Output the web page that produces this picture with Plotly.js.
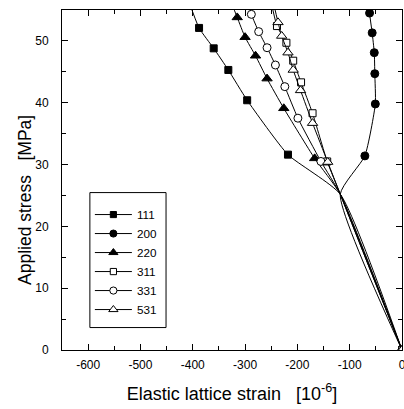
<!DOCTYPE html>
<html>
<head>
<meta charset="utf-8">
<script src="https://cdn.plot.ly/plotly-3.0.1.min.js"></script>
<style>
  html, body { margin: 0; padding: 0; background: #fff; }
  #chart { width: 404px; height: 409px; }
</style>
</head>
<body>
<div id="chart"></div>
<script>
// Lattice strain (10^-6) vs applied stress (MPa) for each reflection.
// Points run from the origin upward; the shared kink near 25 MPa carries no symbol,
// and the last point of each path lies just above the plotted stress range.
const strain111 = [0, -118, -218, -296, -332, -360, -388, -410];
const stress111 = [0, 25.2, 31.6, 40.4, 45.3, 48.8, 52.1, 57];

const strain200 = [0, -118, -71, -51, -52, -53, -57, -62, -63];
const stress200 = [0, 25.2, 31.4, 39.8, 44.7, 48.1, 51.3, 54.5, 58];

const strain220 = [0, -118, -167, -226, -258, -280, -300, -315, -330];
const stress220 = [0, 25.2, 31.0, 39.1, 43.9, 47.6, 50.6, 53.8, 57];

const strain311 = [0, -118, -143, -171, -193, -208, -221, -239, -252];
const stress311 = [0, 25.2, 30.5, 38.3, 43.3, 46.8, 49.7, 52.4, 57];

const strain331 = [0, -118, -155, -199, -224, -242, -258, -274, -288, -297];
const stress331 = [0, 25.2, 30.5, 37.5, 42.6, 46.1, 48.9, 51.5, 54.3, 57];

const strain531 = [0, -118, -142, -171, -194, -208, -218, -230, -237, -248];
const stress531 = [0, 25.2, 30.4, 36.7, 42.0, 45.3, 48.1, 50.8, 53.0, 57];

const seriesNames = ['111', '200', '220', '311', '331', '531'];
const xTickVals = [-600, -500, -400, -300, -200, -100, 0];
const yTickVals = [0, 10, 20, 30, 40, 50];

// symbol, filled?, size
const symbolStyle = [
  ['square', true, 7],
  ['circle', true, 8],
  ['triangle-up', true, 9],
  ['square', false, 7],
  ['circle', false, 8],
  ['triangle-up', false, 9]
];

const xs = [strain111, strain200, strain220, strain311, strain331, strain531];
const ys = [stress111, stress200, stress220, stress311, stress331, stress531];

const traces = seriesNames.map((name, i) => {
  const [sym, filled, sz] = symbolStyle[i];
  // hide the symbol on the kink point (index 1)
  const sizes = xs[i].map((_, k) => (k === 1 ? 0 : sz));
  return {
    type: 'scatter',
    mode: 'lines+markers',
    name: name,
    x: xs[i],
    y: ys[i],
    line: { color: '#000', width: 1, shape: 'spline', smoothing: 0.5 },
    marker: {
      symbol: sym,
      size: sizes,
      color: filled ? '#000' : '#fff',
      opacity: 1,
      line: { color: '#000', width: 1 }
    }
  };
});

const fontFamily = 'Liberation Sans, Arial, sans-serif';
const axisFont = { family: fontFamily, size: 12, color: '#000' };

// legend frame in paper coordinates
const legendBox = { x0: 0.082, x1: 0.306, y0: 0.066, y1: 0.463 };

const layout = {
  width: 404,
  height: 409,
  margin: { l: 62, r: 2, t: 10, b: 59 },
  paper_bgcolor: '#fff',
  plot_bgcolor: '#fff',
  showlegend: true,
  font: { family: fontFamily, color: '#000' },
  xaxis: {
    range: [-650, 0],
    tickvals: xTickVals,
    ticktext: xTickVals.map(String),
    ticks: 'inside',
    ticklen: 6,
    tickwidth: 1,
    tickcolor: '#000',
    minor: { dtick: 50, ticks: 'inside', ticklen: 4, tickcolor: '#000' },
    showline: true,
    linecolor: '#000',
    linewidth: 1,
    mirror: 'ticks',
    showgrid: false,
    zeroline: false,
    tickfont: axisFont,
    ticklabelstandoff: 4,
    ticklabeloverflow: 'allow',
    title: {
      text: 'Elastic lattice strain   [10<sup>-6</sup>]',
      font: { family: fontFamily, size: 18, color: '#000' },
      standoff: 15
    }
  },
  yaxis: {
    range: [0, 55],
    tickvals: yTickVals,
    ticktext: yTickVals.map(String),
    ticks: 'inside',
    ticklen: 6,
    tickwidth: 1,
    tickcolor: '#000',
    minor: { dtick: 5, ticks: 'inside', ticklen: 4, tickcolor: '#000' },
    showline: true,
    linecolor: '#000',
    linewidth: 1,
    mirror: 'ticks',
    showgrid: false,
    zeroline: false,
    tickfont: axisFont,
    ticklabelstandoff: 10,
    ticklabeloverflow: 'allow'
  },
  annotations: [{
    // stress axis title, set a little below the axis midpoint
    text: 'Applied stress   [MPa]',
    xref: 'paper', yref: 'paper',
    x: -0.109, y: 0.441,
    xanchor: 'center', yanchor: 'middle',
    textangle: -90,
    showarrow: false,
    font: { family: fontFamily, size: 17.5, color: '#000' }
  }],
  legend: {
    x: 0.082,
    y: 0.441,
    xanchor: 'left',
    yanchor: 'top',
    bgcolor: 'rgba(0,0,0,0)',
    borderwidth: 0,
    itemwidth: 37,
    font: { family: fontFamily, size: 11.7, color: '#000' },
    tracegroupgap: 0
  },
  shapes: [{
    type: 'rect',
    xref: 'paper', yref: 'paper',
    x0: legendBox.x0, x1: legendBox.x1, y0: legendBox.y0, y1: legendBox.y1,
    line: { color: '#000', width: 1 },
    fillcolor: '#fff',
    layer: 'below'
  }]
};

Plotly.newPlot('chart', traces, layout, { displayModeBar: false, staticPlot: true });
</script>
</body>
</html>
